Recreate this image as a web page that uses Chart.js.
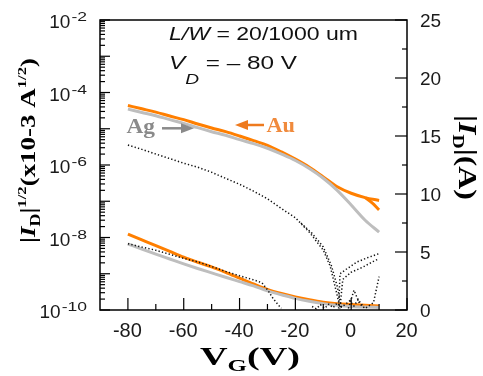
<!DOCTYPE html>
<html><head><meta charset="utf-8">
<script src="https://cdn.jsdelivr.net/npm/chart.js@4.4.0/dist/chart.umd.min.js"></script>
<style>html,body{margin:0;padding:0;background:#fff}#wrap{width:483px;height:376px}</style>
</head><body><div id="wrap"><canvas id="c" width="483" height="376"></canvas></div>
<script>
// ---- data ----
const vg = [-80,-75,-70,-65,-60,-55,-50,-45,-40,-35,-30,-25,-20,-15,-10,-5,0,5,10];
// |ID| (log axis, A)
const auId = [4.37e-5,3.55e-5,2.88e-5,2.24e-5,1.78e-5,1.35e-5,1.05e-5,8.3e-6,6.3e-6,4.7e-6,3.5e-6,2.3e-6,1.45e-6,8.7e-7,4.7e-7,2.5e-7,1.66e-7,1.26e-7,1.05e-7];
const agId = [3.47e-5,2.82e-5,2.29e-5,1.78e-5,1.41e-5,1.07e-5,8.3e-6,6.6e-6,5.0e-6,3.9e-6,2.9e-6,2.0e-6,1.33e-6,8.0e-7,4.3e-7,2.0e-7,7.9e-8,3.0e-8,1.41e-8];
const auBranchV = [5,7.5,10];
const auBranchId = [1.26e-7,9.0e-8,5.8e-8];
// |ID|^1/2 (right axis)
const auSqrt = [6.55,6.05,5.55,5.05,4.55,4.12,3.72,3.25,2.75,2.25,1.78,1.42,1.12,0.88,0.68,0.55,0.47,0.40,0.35];
const agSqrt = [5.69,5.25,4.82,4.40,3.98,3.58,3.20,2.82,2.45,2.08,1.65,1.32,1.00,0.75,0.55,0.40,0.30,0.25,0.22];
// black dotted reference device
const refV = [-80,-75,-70,-65,-60,-55,-50,-45,-40,-35,-30,-25,-20,-15,-10,-7.5,-5,-4];
const refId = [3.55e-6,2.7e-6,2.0e-6,1.5e-6,1.12e-6,8.7e-7,6.3e-7,4.3e-7,2.95e-7,1.9e-7,1.17e-7,6.3e-8,3.5e-8,1.4e-8,4.5e-9,1.6e-9,2.5e-10,1.1e-10];
const ref2V = [-18,-14,-10,-7,-5,-3.5];
const ref2Id = [2.5e-8,1.3e-8,5.5e-9,1.6e-9,4.5e-10,1.2e-10];
const rise1V = [-4.5,-4,-1.5,2,6,10];
const rise1Id = [1.1e-10,1.0e-9,1.38e-9,2.1e-9,2.8e-9,3.6e-9];
const rise2V = [-4,-3,0,4,8,10];
const rise2Id = [1.2e-10,7e-10,1.1e-9,1.5e-9,2.2e-9,2.6e-9];
const lowRV = [-1,1,3,5,8,9.5,10];
const lowRId = [1.1e-10,3.5e-10,1.5e-10,1.1e-10,1.6e-10,5.5e-10,8.3e-10];
const refSqrtV = [-80,-75,-70,-65,-60,-55,-50,-45,-40,-35,-32,-30,-28,-26,-25];
const refSqrt = [5.72,5.42,5.15,4.80,4.45,4.15,3.75,3.33,2.95,2.60,2.35,1.75,1.00,0.40,0.15];
const noiseV = [-14,-12.5,-11,-9.5,-8,-6.5,-5,-3.5,-2,-0.5,1,2.5,4];
const noiseSqrt = [0.3,0.1,0.45,0.15,0.5,0.2,0.6,0.25,0.5,0.8,0.35,0.9,0.4];
// ticks
const xTicks = [-80,-60,-40,-20,0,20];
const xMinor = [-70,-50,-30,-10,10];
const yDecades = [-10,-9,-8,-7,-6,-5,-4,-3,-2];
const yLabelExp = [-10,-8,-6,-4,-2];
const y2Ticks = [0,5,10,15,20,25];
const y2Minor = [2.5,7.5,12.5,17.5,22.5];

const pts = (xs, ys) => xs.map((x,i)=>({x:x, y:ys[i]}));
const ORANGE = '#FF7F00', GRAY = '#BEBEBE', BLK = '#111';
const SANS = '"Liberation Sans", Arial, sans-serif';
const SERIF = '"Liberation Serif", "Times New Roman", serif';

function solid(data, color, axis){ return {data, borderColor:color, borderWidth:3, yAxisID:axis, pointRadius:0, cubicInterpolationMode:'monotone', fill:false}; }
function dotted(data, axis){ return {data, borderColor:BLK, borderWidth:1.5, borderDash:[1.3,2.2], yAxisID:axis, pointRadius:0, tension:0, fill:false}; }

function richDraw(ctx, runs, x, y, targetW, angle, align, color){
  ctx.save();
  ctx.translate(x,y); ctx.rotate(angle||0);
  let nat=0; runs.forEach(r=>{ctx.font=r.f; nat+=ctx.measureText(r.t).width;});
  const s = targetW ? targetW/nat : 1;
  ctx.scale(s,1);
  let cx = align==='center' ? -nat/2 : (align==='right' ? -nat : 0);
  ctx.textBaseline='alphabetic'; ctx.textAlign='left';
  runs.forEach(r=>{ctx.font=r.f; ctx.fillStyle=r.c||color; ctx.fillText(r.t,cx,r.dy||0); cx+=ctx.measureText(r.t).width;});
  ctx.restore();
}

const deco = {
  id:'deco',
  afterDraw(chart){
    const ctx = chart.ctx, a = chart.chartArea;
    const xs = chart.scales.x, ys = chart.scales.y, y2 = chart.scales.y2;
    ctx.save();
    ctx.strokeStyle='#000'; ctx.lineWidth=1.5;
    ctx.strokeRect(a.left, a.top, a.right-a.left, a.bottom-a.top);
    ctx.lineWidth=1.2;
    const line=(x1,y1,x2,y2_)=>{ctx.beginPath();ctx.moveTo(x1,y1);ctx.lineTo(x2,y2_);ctx.stroke();};
    // bottom ticks (inside)
    xTicks.forEach(v=>{const p=xs.getPixelForValue(v); line(p,a.bottom,p,a.bottom-12);});
    xMinor.forEach(v=>{const p=xs.getPixelForValue(v); line(p,a.bottom,p,a.bottom-6);});
    // left log ticks (inside)
    yDecades.forEach(d=>{
      const p=ys.getPixelForValue(Math.pow(10,d)); line(a.left,p,a.left+10,p);
      if(d<-2){ for(let k=2;k<=9;k++){ const q=ys.getPixelForValue(k*Math.pow(10,d)); line(a.left,q,a.left+5,q);} }
    });
    // right ticks (inside)
    y2Ticks.forEach(v=>{const p=y2.getPixelForValue(v); line(a.right,p,a.right-12,p);});
    y2Minor.forEach(v=>{const p=y2.getPixelForValue(v); line(a.right,p,a.right-5,p);});
    // tick labels
    ctx.fillStyle='#1a1a1a';
    ctx.font='20px '+SANS; ctx.textAlign='center'; ctx.textBaseline='alphabetic';
    xTicks.forEach(v=>{ctx.fillText(String(v), xs.getPixelForValue(v)-0.5, 337);});
    ctx.font='19px '+SANS; ctx.textAlign='left';
    y2Ticks.forEach(v=>{ctx.fillText(String(v), 420, y2.getPixelForValue(v)+7);});
    yLabelExp.forEach(e=>{
      const p=ys.getPixelForValue(Math.pow(10,e));
      ctx.font='13px '+SANS; ctx.textAlign='right';
      const ex=String(e);
      const ew=ctx.measureText(ex).width*1.35;
      ctx.save(); ctx.translate(87,p+1); ctx.scale(1.35,1); ctx.fillText(ex,0,0); ctx.restore();
      ctx.font='19px '+SANS;
      ctx.fillText('10', 87-ew-1, p+8);
    });
    // axis titles
    richDraw(ctx,[{t:'V',f:'bold 26px '+SERIF},{t:'G',f:'bold 17px '+SERIF,dy:6},{t:'(V)',f:'bold 26px '+SERIF}],250,365,100,0,'center','#000');
    richDraw(ctx,[{t:'|',f:'bold 21px '+SERIF},{t:'I',f:'italic bold 21px '+SERIF},{t:'D',f:'bold 14px '+SERIF,dy:5},{t:'|',f:'bold 21px '+SERIF},{t:'1/2',f:'bold 13px '+SERIF,dy:-9},{t:'(x10-3 A',f:'bold 21px '+SERIF},{t:'1/2',f:'bold 13px '+SERIF,dy:-9},{t:')',f:'bold 21px '+SERIF}],35,150.5,185,-Math.PI/2,'center','#000');
    richDraw(ctx,[{t:'|',f:'bold 26px '+SERIF},{t:'I',f:'italic bold 26px '+SERIF},{t:'D',f:'bold 16px '+SERIF,dy:6},{t:'|',f:'bold 26px '+SERIF},{t:'(A)',f:'bold 26px '+SERIF}],459,157.5,85,Math.PI/2,'center','#000');
    // annotations
    richDraw(ctx,[{t:'L/W',f:'italic 19px '+SANS},{t:' = 20/1000 um',f:'19px '+SANS}],169,40,189,0,'left','#111');
    richDraw(ctx,[{t:'V',f:'italic 19px '+SANS},{t:'D',f:'italic 15px '+SANS,dy:15},{t:' = \u2013 80 V',f:'19px '+SANS}],169,69,128,0,'left','#111');
    richDraw(ctx,[{t:'Ag',f:'bold 20px '+SERIF}],126.5,133,28.5,0,'left','#8A8A8A');
    richDraw(ctx,[{t:'Au',f:'bold 20px '+SERIF}],266.5,131.5,28.5,0,'left','#F08A3C');
    // arrows
    ctx.lineWidth=2.5;
    ctx.strokeStyle='#8A8A8A'; ctx.fillStyle='#8A8A8A';
    line(162,128.3,184,128.3);
    ctx.beginPath(); ctx.moveTo(194,128.3); ctx.lineTo(181,123.3); ctx.lineTo(181,133.3); ctx.closePath(); ctx.fill();
    ctx.strokeStyle='#EE7A1E'; ctx.fillStyle='#EE7A1E';
    line(264,125,245,125);
    ctx.beginPath(); ctx.moveTo(235,125); ctx.lineTo(248,120); ctx.lineTo(248,130); ctx.closePath(); ctx.fill();
    ctx.restore();
  }
};

new Chart(document.getElementById('c'), {
  type:'line',
  data:{datasets:[
    dotted(pts(refV,refId),'y'),
    dotted(pts(ref2V,ref2Id),'y'),
    dotted(pts(rise1V,rise1Id),'y'),
    dotted(pts(rise2V,rise2Id),'y'),
    dotted(pts(lowRV,lowRId),'y'),
    dotted(pts(refSqrtV,refSqrt),'y2'),
    dotted(pts(noiseV,noiseSqrt),'y2'),
    solid(pts(vg,agId),GRAY,'y'),
    solid(pts(vg,auId),ORANGE,'y'),
    solid(pts(auBranchV,auBranchId),ORANGE,'y'),
    solid(pts(vg,agSqrt),GRAY,'y2'),
    solid(pts(vg,auSqrt),ORANGE,'y2')
  ]},
  options:{
    responsive:false, animation:false, devicePixelRatio:1,
    layout:{padding:{top:20,left:0,right:0,bottom:0}},
    plugins:{legend:{display:false},tooltip:{enabled:false}},
    scales:{
      x:{type:'linear',min:-90,max:20,grid:{display:false},border:{display:false},ticks:{display:false},afterFit:s=>{s.height=66;}},
      y:{type:'logarithmic',position:'left',min:1e-10,max:1e-2,grid:{display:false},border:{display:false},ticks:{display:false},afterFit:s=>{s.width=100;}},
      y2:{type:'linear',position:'right',min:0,max:25,grid:{display:false},border:{display:false},ticks:{display:false},afterFit:s=>{s.width=76;}}
    }
  },
  plugins:[deco]
});
</script></body></html>
